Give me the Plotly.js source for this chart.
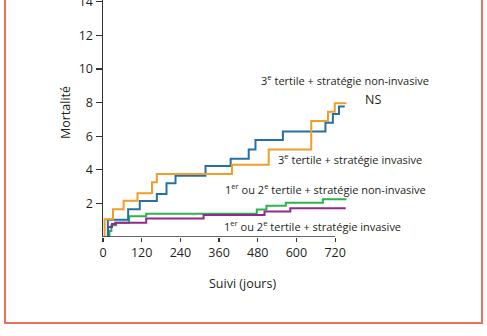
<!DOCTYPE html>
<html>
<head>
<meta charset="utf-8">
<script src="https://cdn.plot.ly/plotly-3.0.1.min.js"></script>
<style>html,body{margin:0;padding:0;background:#fff;}#chart{width:487px;height:336px;}</style>
</head>
<body>
<div id="chart"></div>
<script>
// Follow-up in days (step times) and cumulative mortality (%)
var orangeDays = [5, 5, 31, 64, 107, 152, 167, 400, 514, 646, 698, 719, 755];
var orangeMort = [0, 1.05, 1.65, 2.15, 2.6, 3.25, 3.75, 4.3, 5.2, 6.9, 7.45, 7.95, 7.95];

var blueDays = [15, 15, 78, 114, 167, 197, 225, 318, 396, 452, 473, 558, 690, 713, 732, 750];
var blueMort = [0, 1.03, 1.65, 2.14, 2.56, 3.2, 3.65, 4.23, 4.66, 5.2, 5.77, 6.27, 6.8, 7.32, 7.76, 7.76];

var greenDays = [20, 20, 26, 41, 81, 134, 477, 507, 567, 682, 755];
var greenMort = [0, 0.35, 0.7, 0.85, 1.23, 1.38, 1.63, 1.86, 2.04, 2.24, 2.24];

var purpleDays = [16, 16, 28, 38, 134, 312, 501, 581, 753];
var purpleMort = [0, 0.6, 0.77, 0.85, 1.1, 1.31, 1.51, 1.71, 1.71];

var xTicks = [0, 120, 240, 360, 480, 600, 720];
var yTicks = [2, 4, 6, 8, 10, 12, 14];

var labels = [
  "3<sup>e</sup> tertile + stratégie non-invasive",
  "NS",
  "3<sup>e</sup> tertile + stratégie invasive",
  "1<sup>er</sup> ou 2<sup>e</sup> tertile + stratégie non-invasive",
  "1<sup>er</sup> ou 2<sup>e</sup> tertile + stratégie invasive"
];

var FONT = "Open Sans, Noto Sans, sans-serif";
var TXT = "#231f20";

function stepTrace(x, y, color) {
  return {x: x, y: y, type: "scatter", mode: "lines",
    line: {shape: "hv", color: color, width: 2}, hoverinfo: "skip", showlegend: false};
}

var data = [
  stepTrace(greenDays, greenMort, "#2eb34c"),
  stepTrace(purpleDays, purpleMort, "#93298f"),
  stepTrace(blueDays, blueMort, "#2470a6"),
  stepTrace(orangeDays, orangeMort, "#f09e2a")
];

// plot area geometry (px)
var L = 103, W = 245, T = 0, H = 237;
function px(xp) { return (xp - L) / W; }
function py(yp) { return (T + H - yp) / H; }

var borderColor = "#e8735c";

function ann(text, x, y, size, extra) {
  var a = {text: text, xref: "paper", yref: "paper", x: px(x), y: py(y),
    xanchor: "center", yanchor: "middle", showarrow: false, font: {size: size}};
  if (extra) for (var k in extra) a[k] = extra[k];
  return a;
}

var layout = {
  width: 487, height: 336,
  margin: {l: L, r: 487 - L - W, t: T, b: 336 - T - H, pad: 0},
  paper_bgcolor: "#fff", plot_bgcolor: "#fff",
  font: {family: FONT, size: 12, color: TXT},
  xaxis: {range: [0, 760], tickvals: xTicks, ticktext: xTicks.map(String),
    ticks: "outside", ticklen: 4, tickwidth: 1.2, tickcolor: "#333",
    showline: false, showgrid: false, zeroline: false,
    tickfont: {family: FONT, size: 12.5, color: TXT}},
  yaxis: {range: [0, 14.1], tickvals: yTicks, ticktext: yTicks.map(String),
    ticks: "outside", ticklen: 6, tickwidth: 1.2, tickcolor: "#333",
    showline: true, linecolor: "#333", linewidth: 1.5,
    showgrid: false, zeroline: false, ticklabeloverflow: "allow",
    tickfont: {family: FONT, size: 12.5, color: TXT}},
  shapes: [
    {type: "line", xref: "x", yref: "y", x0: 0, x1: 720, y0: 0, y1: 0,
      line: {color: "#333", width: 1.5}},
    {type: "line", xref: "paper", yref: "paper", x0: px(5), x1: px(5), y0: py(-5), y1: py(323),
      line: {color: borderColor, width: 2}},
    {type: "line", xref: "paper", yref: "paper", x0: px(482), x1: px(482), y0: py(-5), y1: py(323),
      line: {color: borderColor, width: 2}},
    {type: "line", xref: "paper", yref: "paper", x0: px(4), x1: px(483), y0: py(323), y1: py(323),
      line: {color: borderColor, width: 2}}
  ],
  annotations: [
    ann(labels[0], 345, 80, 11),
    ann(labels[1], 373, 100, 12.5),
    ann(labels[2], 350, 159, 11),
    ann(labels[3], 325.5, 189, 11),
    ann(labels[4], 312.5, 226, 11),
    ann("Suivi (jours)", 242, 283, 12.5),
    ann("Mortalité", 66, 113, 12.5, {textangle: -90})
  ]
};

Plotly.newPlot("chart", data, layout, {staticPlot: true, displayModeBar: false});
</script>
</body>
</html>
